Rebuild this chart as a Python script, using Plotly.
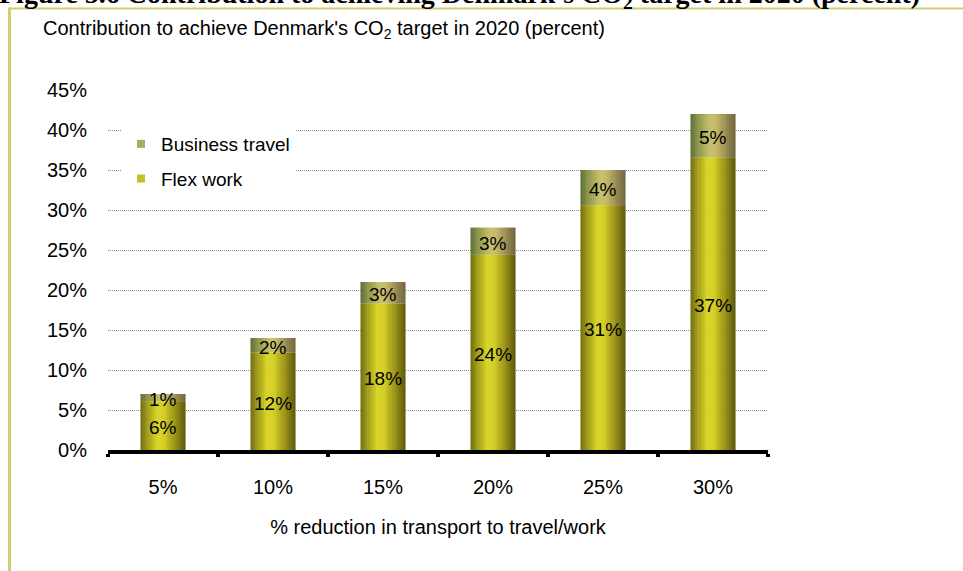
import plotly.graph_objects as go

# ---- data ----
categories = ["5%", "10%", "15%", "20%", "25%", "30%"]
flex_work = [6.1, 12.2, 18.3, 24.4, 30.6, 36.6]
business_travel = [0.9, 1.8, 2.7, 3.4, 4.4, 5.4]
y_ticks = [0, 5, 10, 15, 20, 25, 30, 35, 40, 45]
y_tick_labels = ["0%", "5%", "10%", "15%", "20%", "25%", "30%", "35%", "40%", "45%"]

W, H = 963, 571
L, R, T, B = 108, 195, 90, 121
PW, PH = W - L - R, H - T - B


def px(x):
    return (x - L) / PW


def py(y):
    return (H - B - y) / PH


def interp(stops, t):
    for (t0, c0), (t1, c1) in zip(stops[:-1], stops[1:]):
        if t0 <= t <= t1:
            f = (t - t0) / (t1 - t0) if t1 > t0 else 0
            c = [round(a + (b - a) * f) for a, b in zip(c0, c1)]
            return "rgb(%d,%d,%d)" % tuple(c)
    return "rgb(%d,%d,%d)" % stops[-1][1]


flex_stops = [(0.0, (112, 110, 20)), (0.15, (160, 156, 26)), (0.38, (218, 214, 42)),
              (0.52, (212, 206, 38)), (0.8, (146, 138, 22)), (1.0, (90, 84, 10))]
bt_stops = [(0.0, (92, 112, 56)), (0.2, (150, 156, 80)), (0.45, (202, 194, 110)),
            (0.58, (194, 184, 104)), (0.85, (140, 128, 76)), (1.0, (110, 100, 60))]

BAR_W = 0.41
N = 20
sw = BAR_W / N

fig = go.Figure()

# legend entries
fig.add_trace(go.Scatter(x=[None], y=[None], mode="markers", name="Business travel",
                         legendgroup="bt",
                         marker=dict(symbol="square", size=8, color=interp(bt_stops, 0.3),
                                     line=dict(width=0))))
fig.add_trace(go.Scatter(x=[None], y=[None], mode="markers", name="Flex work",
                         legendgroup="fw",
                         marker=dict(symbol="square", size=8, color=interp(flex_stops, 0.3),
                                     line=dict(width=0))))

bases_bt = flex_work
for i in range(N):
    t = (i + 0.5) / N
    wdt = sw * (1.25 if i < N - 1 else 1.0)
    off = -BAR_W / 2 + i * sw
    fig.add_trace(go.Bar(x=categories, y=flex_work, base=[0] * len(flex_work),
                         offset=off, width=wdt, marker=dict(color=interp(flex_stops, t), line=dict(width=0)),
                         showlegend=False, hoverinfo="skip"))
    fig.add_trace(go.Bar(x=categories, y=business_travel, base=bases_bt,
                         offset=off, width=wdt, marker=dict(color=interp(bt_stops, t), line=dict(width=0)),
                         showlegend=False, hoverinfo="skip"))

# data labels (centred in each segment)
label_font = dict(size=19, color="black", family="Liberation Sans")
annotations = []
for c, f, b in zip(categories, flex_work, business_travel):
    annotations.append(dict(x=c, y=f / 2, xref="x", yref="y", text="%d%%" % round(f),
                            showarrow=False, yshift=-2, font=label_font))
    annotations.append(dict(x=c, y=f + b / 2, xref="x", yref="y", text="%d%%" % round(b),
                            showarrow=False, yshift=-2, font=label_font))

annotations += [
    dict(text="Contribution to achieve Denmark's CO<sub>2</sub> target in 2020 (percent)",
         xref="paper", yref="paper", x=px(41), y=py(30), xanchor="left", yanchor="middle",
         showarrow=False, font=dict(size=20, family="Liberation Sans")),
    dict(text="Figure 5.6 Contribution to achieving Denmark's CO<sub>2</sub> target in 2020 (percent)",
         xref="paper", yref="paper", x=px(-3), y=py(15), xanchor="left", yanchor="bottom",
         showarrow=False, font=dict(size=28, family="Liberation Serif", weight=700)),
]

frame_col = "#d2cd6e"
fig.update_layout(
    width=W, height=H,
    margin=dict(l=L, r=R, t=T, b=B, pad=0),
    paper_bgcolor="white", plot_bgcolor="white",
    barmode="overlay",
    font=dict(family="Liberation Sans", size=20, color="black"),
    showlegend=True,
    legend=dict(x=px(121), y=py(125), xanchor="left", yanchor="top",
                bgcolor="white", traceorder="grouped", tracegroupgap=7,
                font=dict(size=19), itemclick=False),
    xaxis=dict(type="category", showline=True, linewidth=4, linecolor="black",
               ticks="outside", ticklen=3, tickwidth=4, tickcolor="black",
               tickson="boundaries", showgrid=False, ticklabelstandoff=16,
               range=[-0.5, 5.5], tickfont=dict(size=20),
               title=dict(text="% reduction in transport to travel/work", standoff=24,
                          font=dict(size=20))),
    yaxis=dict(range=[0, 45], tickmode="array", tickvals=y_ticks, ticktext=y_tick_labels,
               showgrid=True, tickfont=dict(size=20),
               gridcolor="#8c8c8c", griddash="1px,1px", gridwidth=1, zeroline=False,
               showline=False, ticks="", ticklabelstandoff=20),
    shapes=[
        dict(type="line", xref="paper", yref="paper", x0=px(9), x1=px(963), y0=py(8.5), y1=py(8.5),
             line=dict(color=frame_col, width=2)),
        dict(type="line", xref="paper", yref="paper", x0=px(9.5), x1=px(9.5), y0=py(7.5), y1=py(571),
             line=dict(color=frame_col, width=3)),
    ],
    annotations=annotations,
)

fig.write_html("out.html")
